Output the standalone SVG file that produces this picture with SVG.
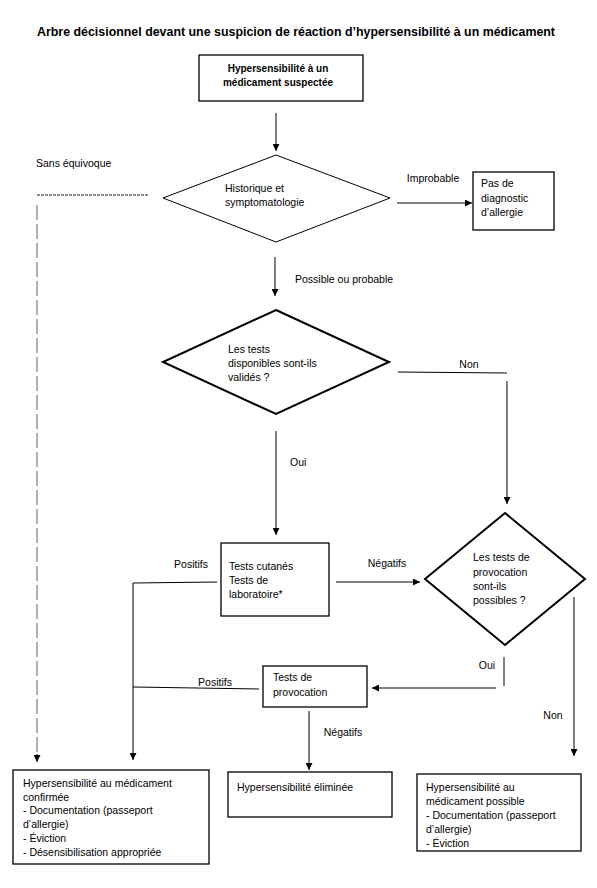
<svg xmlns="http://www.w3.org/2000/svg" width="597" height="888" viewBox="0 0 597 888">
<defs>
<marker id="ah" viewBox="0 0 10 10" refX="10" refY="5" markerWidth="7" markerHeight="7" markerUnits="userSpaceOnUse" orient="auto">
<path d="M0,0 L10,5 L0,10 z" fill="#000"/>
</marker>
</defs>
<style>
text{font-family:"Liberation Sans",Arial,sans-serif;font-size:10.5px;fill:#000}
.b{font-weight:bold}
.box{fill:#fff;stroke:#000;stroke-width:1.3}
.dia{fill:#fff;stroke:#000;stroke-width:1}
.dia2{fill:#fff;stroke:#000;stroke-width:2}
.ln{fill:none;stroke:#000;stroke-width:1}
.arr{fill:none;stroke:#000;stroke-width:1;marker-end:url(#ah)}
.dot{fill:none;stroke:#666;stroke-width:1.3;stroke-dasharray:3 1}
.dash{fill:none;stroke:#888;stroke-width:1.3;stroke-dasharray:15 4}
</style>
<rect width="597" height="888" fill="#fff"/>
<text id="title" class="b" x="37" y="36" textLength="518" lengthAdjust="spacingAndGlyphs" style="font-size:12.3px">Arbre décisionnel devant une suspicion de réaction d’hypersensibilité à un médicament</text>

<g id="connectors">
<line class="arr" x1="276" y1="113" x2="276" y2="151"/>
<line class="arr" x1="397" y1="203" x2="472" y2="203"/>
<line class="arr" x1="275" y1="257" x2="275" y2="296"/>
<line class="ln" x1="398" y1="372" x2="507" y2="373"/>
<line class="arr" x1="507" y1="381" x2="507" y2="504"/>
<line class="arr" x1="276" y1="431" x2="276" y2="535"/>
<polyline class="ln" points="217,582 133,583"/>
<line class="arr" x1="133" y1="583" x2="133" y2="760"/>
<line class="arr" x1="336" y1="582" x2="420" y2="582"/>
<line class="ln" x1="504" y1="657" x2="504" y2="686"/>
<line class="arr" x1="496" y1="688" x2="372" y2="688"/>
<line class="ln" x1="259" y1="689" x2="133" y2="687"/>
<line class="arr" x1="309" y1="711" x2="309" y2="770"/>
<line class="arr" x1="574" y1="597" x2="574" y2="756"/>
<line class="dot" x1="37" y1="195" x2="148" y2="195"/>
<line class="dash" x1="37" y1="205" x2="37" y2="755"/>
<line class="arr" x1="37" y1="754" x2="37" y2="762"/>
<text x="36" y="167">Sans équivoque</text>
<text x="433" y="182" text-anchor="middle">Improbable</text>
<text x="295" y="283">Possible ou probable</text>
<text x="469" y="368" text-anchor="middle">Non</text>
<text x="290" y="466">Oui</text>
<text x="191" y="568" text-anchor="middle">Positifs</text>
<text x="387" y="567" text-anchor="middle">Négatifs</text>
<text x="487" y="669" text-anchor="middle">Oui</text>
<text x="215" y="686" text-anchor="middle">Positifs</text>
<text x="343" y="736" text-anchor="middle">Négatifs</text>
<text x="553" y="719" text-anchor="middle">Non</text>
</g>

<g id="n-suspectee">
<rect class="box" x="199" y="55" width="164" height="46"/>
<text class="b" x="278" y="72" text-anchor="middle" style="font-size:10px">Hypersensibilité à un</text>
<text class="b" x="278" y="86" text-anchor="middle" style="font-size:10px">médicament suspectée</text>
</g>

<g id="n-historique">
<polygon class="dia" points="276,155 390,198 276,242 163,198"/>
<text x="225" y="192">Historique et</text>
<text x="225" y="206">symptomatologie</text>
</g>

<g id="n-pasdiag">
<rect class="box" x="473" y="172" width="81" height="58"/>
<text x="481" y="187">Pas de</text>
<text x="481" y="202">diagnostic</text>
<text x="481" y="216">d’allergie</text>
</g>

<g id="n-valides">
<polygon class="dia2" points="276,310 389,362 276,414 163,362"/>
<text x="228" y="353">Les tests</text>
<text x="228" y="367">disponibles sont-ils</text>
<text x="228" y="381">validés ?</text>
</g>

<g id="n-cutanes">
<rect class="box" x="221" y="543" width="108" height="73"/>
<text x="229" y="570">Tests cutanés</text>
<text x="229" y="584">Tests de</text>
<text x="229" y="598">laboratoire*</text>
</g>

<g id="n-provpossibles">
<polygon class="dia2" points="505,513 585,579 505,645 425,579"/>
<text x="473" y="561">Les tests de</text>
<text x="473" y="576">provocation</text>
<text x="473" y="590">sont-ils</text>
<text x="473" y="604">possibles ?</text>
</g>

<g id="n-provocation">
<rect class="box" x="263" y="666" width="104" height="41"/>
<text x="273" y="681">Tests de</text>
<text x="273" y="696">provocation</text>
</g>

<g id="n-confirmee">
<rect class="box" x="13" y="770" width="196" height="94"/>
<text x="23" y="787">Hypersensibilité au médicament</text>
<text x="23" y="800.7">confirmée</text>
<text x="23" y="814.4">- Documentation (passeport</text>
<text x="23" y="828.1">d’allergie)</text>
<text x="23" y="841.8">- Éviction</text>
<text x="23" y="855.5">- Désensibilisation appropriée</text>
</g>

<g id="n-eliminee">
<rect class="box" x="228" y="772" width="164" height="45"/>
<text x="237" y="791">Hypersensibilité éliminée</text>
</g>

<g id="n-possible">
<rect class="box" x="417" y="774" width="164" height="77"/>
<text x="426" y="791">Hypersensibilité au</text>
<text x="426" y="805">médicament possible</text>
<text x="426" y="819">- Documentation (passeport</text>
<text x="426" y="833">d’allergie)</text>
<text x="426" y="847">- Éviction</text>
</g>
</svg>
